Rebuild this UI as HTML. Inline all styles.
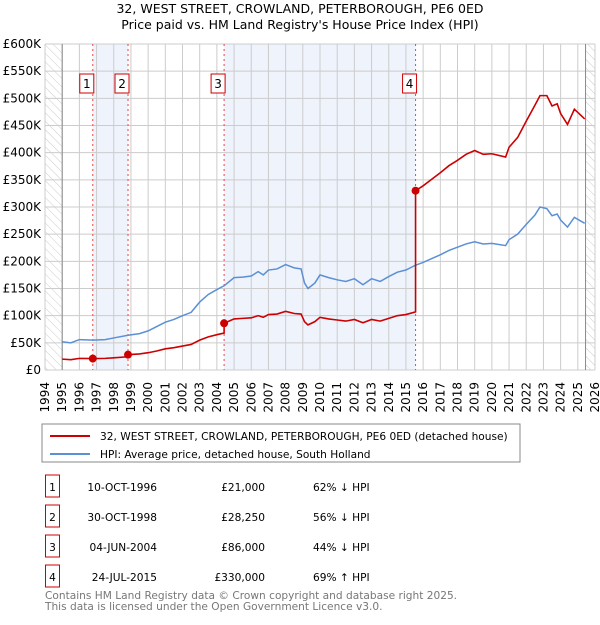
<!DOCTYPE html>
<html><head><meta charset="utf-8"><style>
body{margin:0;background:#fff;font-family:"Liberation Sans","DejaVu Sans",sans-serif;}
svg text{font-family:"DejaVu Sans","Liberation Sans",sans-serif;}
</style></head><body>
<svg id="c" width="600" height="620" xmlns="http://www.w3.org/2000/svg">
<defs><pattern id="hatch" width="6" height="6" patternUnits="userSpaceOnUse" patternTransform="rotate(-45)"><line x1="0" y1="0" x2="0" y2="6" stroke="#ccc" stroke-width="1"/></pattern></defs>
<text x="300" y="13" text-anchor="middle" font-size="12.5">32, WEST STREET, CROWLAND, PETERBOROUGH, PE6 0ED</text>
<text x="300" y="29" text-anchor="middle" font-size="12.5">Price paid vs. HM Land Registry's House Price Index (HPI)</text>
<g id="plot"></g>
<g>
<rect x="42" y="424" width="478" height="38" fill="#fff" stroke="#888"/>
<line x1="50" y1="436" x2="90" y2="436" stroke="#cc0000" stroke-width="2"/>
<text x="100" y="440" font-size="10.6">32, WEST STREET, CROWLAND, PETERBOROUGH, PE6 0ED (detached house)</text>
<line x1="50" y1="454" x2="90" y2="454" stroke="#5b8fd6" stroke-width="2"/>
<text x="100" y="458" font-size="10.6">HPI: Average price, detached house, South Holland</text>
</g>
<g id="table" font-size="10.6"></g>
<text x="45" y="599" font-size="10.6" fill="#777">Contains HM Land Registry data © Crown copyright and database right 2025.</text>
<text x="45" y="610" font-size="10.6" fill="#777">This data is licensed under the Open Government Licence v3.0.</text>
</svg>
<script>
const hpiYears=[1995.0,1995.5,1996.0,1996.78,1997.5,1998.0,1998.83,1999.5,2000.0,2000.5,2001.0,2001.5,2002.0,2002.5,2003.0,2003.5,2004.0,2004.42,2005.0,2005.5,2006.0,2006.4,2006.7,2007.0,2007.5,2008.0,2008.5,2008.9,2009.1,2009.3,2009.7,2010.0,2010.5,2011.0,2011.5,2012.0,2012.5,2013.0,2013.5,2014.0,2014.5,2015.0,2015.56,2016.0,2016.5,2017.0,2017.5,2018.0,2018.5,2019.0,2019.5,2020.0,2020.8,2021.0,2021.5,2022.0,2022.5,2022.8,2023.2,2023.5,2023.8,2024.0,2024.4,2024.8,2025.4];
const hpiValues=[52,50,56,55,56,59,64,67,72,80,88,93,100,106,125,139,148,155,170,171,173,181,175,184,186,194,188,186,160,150,160,175,170,166,163,168,157,168,163,172,180,184,193,198,205,212,220,226,232,236,232,233,229,240,250,268,285,300,297,284,287,276,263,281,270];
const redYears=[1995.0,1995.5,1996.0,1996.78,1997.5,1998.0,1998.83,1998.83,1999.5,2000.0,2000.5,2001.0,2001.5,2002.0,2002.5,2003.0,2003.5,2004.0,2004.42,2004.42,2005.0,2005.5,2006.0,2006.4,2006.7,2007.0,2007.5,2008.0,2008.5,2008.9,2009.1,2009.3,2009.7,2010.0,2010.5,2011.0,2011.5,2012.0,2012.5,2013.0,2013.5,2014.0,2014.5,2015.0,2015.56,2015.56,2016.0,2016.5,2017.0,2017.5,2018.0,2018.5,2019.0,2019.5,2020.0,2020.8,2021.0,2021.5,2022.0,2022.5,2022.8,2023.2,2023.5,2023.8,2024.0,2024.4,2024.8,2025.4];
const redValues=[20,19,21.4,21,21.4,22.5,24.4,28.25,29.5,31.8,35,39,41,44,47,55,61,65,68,86,94,95,96,100,97,102,103,108,104,103,89,83,89,97,94,92,90,93,87,93,90,95,100,102,107,330,339,351,363,376,386,397,404,397,398,392,410,428,458,487,505,505,486,490,472,452,480,462];
const saleLabels=["1","2","3","4"];
const saleYears=[1996.78,1998.83,2004.42,2015.56];
const salePrices=[21,28.25,86,330];
const saleDates=["10-OCT-1996","30-OCT-1998","04-JUN-2004","24-JUL-2015"];
const salePriceText=["£21,000","£28,250","£86,000","£330,000"];
const saleHpiText=["62% ↓ HPI","56% ↓ HPI","44% ↓ HPI","69% ↑ HPI"];
const yTicks=[0,50,100,150,200,250,300,350,400,450,500,550,600];
const yTickLabels=["£0","£50K","£100K","£150K","£200K","£250K","£300K","£350K","£400K","£450K","£500K","£550K","£600K"];
const xStart=1994,xEnd=2026;

const L=45,R=595,T=44,B=370;
const X=y=>L+(y-xStart)/(xEnd-xStart)*(R-L);
const Y=v=>B-v/600*(B-T);
const NS="http://www.w3.org/2000/svg";
const plot=document.getElementById('plot');
function mk(tag,attrs,parent){const e=document.createElementNS(NS,tag);for(const k in attrs)e.setAttribute(k,attrs[k]);(parent||plot).appendChild(e);return e;}
let e;
e=mk('rect',{x:L,y:T,width:R-L,height:B-T,fill:'#fff'});


for(let i=0;i<saleYears.length;i+=2){
 const x1=X(saleYears[i]),x2=X(saleYears[i+1]);
 e=mk('rect',{x:x1,y:T,width:x2-x1,height:B-T,fill:'#eef3fc'});
 
 
}
e=mk('rect',{x:L,y:T,width:X(1995)-L,height:B-T,fill:'url(#hatch)'});


e=mk('rect',{x:X(2025.45),y:T,width:R-X(2025.45),height:B-T,fill:'url(#hatch)'});


for(let yr=xStart;yr<=xEnd;yr++){
 e=mk('line',{x1:X(yr),x2:X(yr),y1:T,y2:B,stroke:'#ccc','stroke-width':1});
 
 
 e=mk('text',{x:0,y:0,'font-size':12,transform:`translate(${X(yr)+4},${B+12}) rotate(-90)`,'text-anchor':'end'});
 e.textContent=String(yr);
 
 
}
yTicks.forEach((v,i)=>{
 e=mk('line',{x1:L,x2:R,y1:Y(v),y2:Y(v),stroke:'#ccc','stroke-width':1});
 
 
 e=mk('text',{x:L-4,y:Y(v)+4,'font-size':12,'text-anchor':'end'});
 e.textContent=yTickLabels[i];
 
 
});
e=mk('line',{x1:X(1995),x2:X(1995),y1:T,y2:B,stroke:'#888'});


e=mk('line',{x1:X(2025.45),x2:X(2025.45),y1:T,y2:B,stroke:'#888'});


saleYears.forEach((s,i)=>{
 e=mk('line',{x1:X(s),x2:X(s),y1:T,y2:B,stroke:'#ee4444','stroke-dasharray':'2,3','stroke-width':1});
 
 
});
e=mk('polyline',{points:hpiYears.map((y,i)=>X(y)+','+Y(hpiValues[i])).join(' '),fill:'none',stroke:'#5b8fd6','stroke-width':1.5});


e=mk('polyline',{points:redYears.map((y,i)=>X(y)+','+Y(redValues[i])).join(' '),fill:'none',stroke:'#cc0000','stroke-width':1.6});


saleYears.forEach((s,i)=>{
 e=mk('circle',{cx:X(s),cy:Y(salePrices[i]),r:4,fill:'#cc0000'});
 
 
 const bx=X(s)-13;
 e=mk('rect',{x:bx,y:74,width:14,height:19,fill:'#fff',stroke:'#cc0000'});
 
 
 e=mk('text',{x:bx+7,y:88,'font-size':12,'text-anchor':'middle'});
 e.textContent=saleLabels[i];
 
 
});
const tb=document.getElementById('table');
saleLabels.forEach((l,i)=>{
 const y=487+i*30;
 e=mk('rect',{x:45.5,y:y-12,width:14,height:22,fill:'#fff',stroke:'#cc0000'},tb);
 
 
 e=mk('text',{x:52.5,y:y+4,'text-anchor':'middle'},tb);e.textContent=l;
 
 
 e=mk('text',{x:157,y:y+4,'text-anchor':'end'},tb);e.textContent=saleDates[i];
 
 
 e=mk('text',{x:265,y:y+4,'text-anchor':'end'},tb);e.textContent=salePriceText[i];
 
 
 e=mk('text',{x:313,y:y+4},tb);e.textContent=saleHpiText[i];
 
 
});
</script>
</body></html>
